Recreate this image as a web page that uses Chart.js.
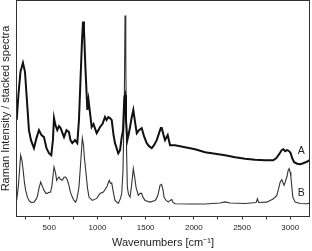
<!DOCTYPE html>
<html>
<head>
<meta charset="utf-8">
<script src="https://cdn.jsdelivr.net/npm/chart.js@4/dist/chart.umd.min.js"></script>
<style>
    body { margin: 0; background: #fff; }
    canvas { display: block; }
</style>
</head>
<body>
<canvas id="ramanChart" width="312" height="251"></canvas>
<script>
// Spectrum A (upper, noisy)
const wavenumbersA = [162, 180, 201, 227, 248, 268, 289, 310, 341, 367, 393, 419, 445, 471, 497, 521, 538, 549, 564, 583,
    601, 618, 637, 653, 679, 704, 720, 739, 767, 791, 808, 824, 840, 850, 860, 876, 895, 907, 923, 940,
    959, 992, 1011, 1026, 1052, 1078, 1094, 1113, 1130, 1148, 1167, 1182, 1216, 1234, 1252, 1265, 1279, 1286, 1296, 1310,
    1322, 1338, 1354, 1372, 1390, 1408, 1431, 1459, 1483, 1511, 1535, 1563, 1587, 1615, 1639, 1657, 1667, 1686, 1701, 1729,
    1753, 1805, 1857, 1909, 2013, 2117, 2221, 2324, 2428, 2532, 2636, 2740, 2823, 2854, 2885, 2911, 2930, 2947, 2968, 2989,
    3005, 3020, 3041, 3072, 3103, 3134, 3173, 3200];
const intensityA = [96, 121, 144, 153, 144, 116, 86, 76, 68, 78, 86, 81, 79, 68, 63, 61, 76, 98, 91, 86,
    90, 88, 83, 79, 86, 84, 76, 73, 76, 73, 96, 136, 176, 194, 186, 146, 106, 116, 103, 89,
    92, 83, 86, 89, 92, 99, 96, 99, 98, 96, 81, 73, 63, 66, 79, 86, 119, 121, 96, 76,
    81, 89, 98, 106, 94, 83, 86, 88, 80, 73, 70, 68, 71, 76, 83, 88, 88, 81, 76, 81,
    71, 71, 70, 69, 67, 64, 62.5, 61, 59, 57.5, 56.5, 56, 56, 58, 62, 66, 67, 65, 66, 65,
    63, 58, 54, 52.5, 52, 53, 54.5, 56];

// Spectrum B (lower, clean)
const wavenumbersB = [162, 180, 203, 216, 227, 242, 255, 274, 289, 310, 341, 362, 375, 393, 411, 429, 445, 466, 479, 497,
    514, 528, 549, 564, 577, 590, 601, 616, 635, 653, 670, 689, 704, 720, 739, 756, 774, 788, 808, 824,
    843, 855, 865, 878, 897, 912, 946, 992, 1026, 1061, 1096, 1123, 1135, 1148, 1167, 1182, 1216, 1239, 1252, 1265,
    1279, 1286, 1294, 1302, 1310, 1322, 1338, 1354, 1372, 1388, 1400, 1424, 1442, 1459, 1473, 1494, 1546, 1598, 1618, 1632,
    1649, 1665, 1681, 1691, 1712, 1736, 1753, 1771, 1784, 1805, 1961, 2117, 2273, 2324, 2376, 2532, 2646, 2660, 2672, 2757,
    2792, 2826, 2861, 2880, 2896, 2913, 2927, 2937, 2953, 2965, 2979, 2989, 3000, 3007, 3018, 3027, 3051, 3103, 3173, 3200];
const intensityB = [16, 31, 61, 56, 48, 34, 26, 19, 16, 14, 14.3, 17, 19.3, 28, 34.3, 30, 26, 23, 23, 24,
    24.3, 31, 49.3, 44, 36, 38, 39.3, 37, 36, 39, 39.3, 36, 31, 24, 19.3, 16, 14.3, 18, 29.3, 51,
    78, 71, 58, 46, 28, 19.3, 16, 18, 23, 24.3, 29.3, 36, 33, 33.3, 23, 16, 13, 18, 23, 46,
    119, 200, 156, 66, 29.3, 22, 19.3, 31, 47.7, 38, 29.3, 21, 23, 23, 19, 16, 14.3, 16, 19, 23,
    31, 32, 26, 19.3, 16, 14.3, 16, 17, 14, 12.7, 12.5, 12.5, 13.5, 14.5, 13.5, 13, 14, 17.7, 14, 14.3,
    16, 17.7, 21, 28, 34.3, 36.7, 33, 31, 36, 39.3, 46, 47.7, 44, 39.3, 28, 19.3, 14.3, 13, 12.7, 13.3];

const seriesNames = ["A", "B"];
// ticks every 250, labels only on the 500s
const xTickValues = [250, 500, 750, 1000, 1250, 1500, 1750, 2000, 2250, 2500, 2750, 3000];
const xTickLabels = ["", "500", "", "1000", "", "1500", "", "2000", "", "2500", "", "3000"];
const xMin = 160;
const xMax = 3200;

const fontFamily = "'Liberation Sans', Arial, sans-serif";

/**
 * Draws the box around the plot area and the spectrum labels at the right.
 */
const frameAndLabels = {
    id: "frameAndLabels",
    afterDatasetsDraw(chart) {
        const { ctx, chartArea, scales } = chart;
        ctx.save();
        ctx.strokeStyle = "#333";
        ctx.lineWidth = 1;
        ctx.strokeRect(chartArea.left, chartArea.top,
            chartArea.right - chartArea.left, chartArea.bottom - chartArea.top);

        ctx.fillStyle = "#222";
        ctx.font = "10.5px " + fontFamily;
        ctx.textAlign = "center";
        ctx.textBaseline = "middle";
        const lx = scales.x.getPixelForValue(3115);
        ctx.fillText(seriesNames[0], lx, scales.y.getPixelForValue(65));
        ctx.fillText(seriesNames[1], lx, scales.y.getPixelForValue(23));
        ctx.restore();
    },
};

function toPoints(xs, ys) {
    return xs.map((x, i) => ({ x: x, y: ys[i] }));
}

const ramanChart = new Chart(document.getElementById("ramanChart").getContext("2d"), {
    type: "line",
    data: {
        datasets: [
            {
                label: seriesNames[0],
                data: toPoints(wavenumbersA, intensityA),
                borderColor: "#111",
                borderWidth: 2,
                pointRadius: 0,
                tension: 0,
            },
            {
                label: seriesNames[1],
                data: toPoints(wavenumbersB, intensityB),
                borderColor: "#333",
                borderWidth: 1.1,
                pointRadius: 0,
                tension: 0,
            },
        ],
    },
    options: {
        responsive: false,
        animation: false,
        layout: {
            padding: { top: 0.5, right: 2.5, left: 0, bottom: 0 },
        },
        plugins: {
            legend: { display: false },
            tooltip: { enabled: false },
        },
        scales: {
            x: {
                type: "linear",
                min: xMin,
                max: xMax,
                border: { display: false },
                grid: {
                    drawOnChartArea: false,
                    drawTicks: true,
                    tickLength: 3,
                    tickColor: "#333",
                },
                afterBuildTicks: (scale) => {
                    scale.ticks = xTickValues.map((v) => ({ value: v }));
                },
                ticks: {
                    autoSkip: false,
                    maxRotation: 0,
                    padding: 3.5,
                    color: "#222",
                    font: { family: fontFamily, size: 8 },
                    callback: (value) => xTickLabels[xTickValues.indexOf(value)],
                },
                title: {
                    display: true,
                    text: "Wavenumbers [cm\u207B\u00B9]",
                    color: "#222",
                    font: { family: fontFamily, size: 11, lineHeight: 1.2 },
                    padding: { top: 0, bottom: 1.5 },
                },
                afterFit: (scale) => { scale.height = 34.5; },
            },
            y: {
                min: 0,
                max: 215,
                border: { display: false },
                grid: { display: false },
                ticks: { display: false },
                title: {
                    display: true,
                    text: "Raman Intensity / stacked spectra",
                    color: "#222",
                    font: { family: fontFamily, size: 11, lineHeight: 1 },
                    padding: { top: 0.5, bottom: 0 },
                },
                afterFit: (scale) => { scale.width = 16.5; },
            },
        },
    },
    plugins: [frameAndLabels],
});
</script>
</body>
</html>
